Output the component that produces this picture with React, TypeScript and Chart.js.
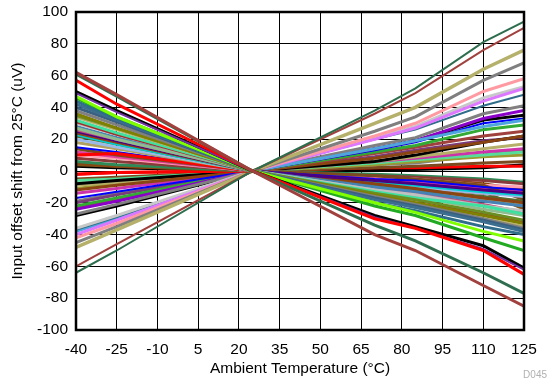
import React, { useEffect, useRef } from "react";
import { Chart, registerables } from "chart.js";

Chart.register(...registerables);

const temps = [-40, -25, 25, 70, 85, 110, 125];
const xTicks = [-40, -25, -10, 5, 20, 35, 50, 65, 80, 95, 110, 125];
const yTicks = [-100, -80, -60, -40, -20, 0, 20, 40, 60, 80, 100];

// negative temperature coefficient units
const n01 = [62, 48, 0, -40, -50, -72, -85];
const n02 = [61, 47, 0, -34, -44, -64, -77];
const n03 = [57, 42, 0, -30, -36, -50, -65];
const n04 = [50, 38, 0, -28, -35, -47, -61];
const n05 = [49, 37, 0, -29, -36, -49, -62];
const n06 = [47, 34, 0, -20, -26, -38, -44];
const n07 = [46, 34, 0, -22, -28, -42, -50];
const n08 = [44, 33, 0, -20, -25, -35, -40];
const n09 = [42, 32, 0, -18, -23, -32, -38];
const n10 = [38, 29, 0, -16, -21, -30, -36];
const n11 = [36, 27, 0, -15, -20, -28, -33];
const n12 = [34, 26, 0, -15, -20, -30, -35];
const n13 = [32, 24, 0, -13, -17, -22, -27];
const n14 = [30, 23, 0, -12, -15, -22, -25];
const n15 = [28, 21, 0, -10, -13, -19, -22];
const n16 = [26, 20, 0, -11, -14, -21, -26];
const n17 = [24, 18, 0, -8, -11, -17, -20];
const n18 = [22, 17, 0, -9, -12, -16, -19];
const n19 = [20, 15, 0, -8, -10, -14, -16];
const n20 = [10, 11, 0, -8, -10, -14, -15];
const n21 = [15, 12, 0, -5, -6, -10, -12];
const n22 = [12, 9, 0, -5, -7, -11, -13];
const n23 = [10, 8, 0, -4, -5, -9, -10];
const n24 = [8, 6, 0, -3, -4, -6, -8];
const n25 = [6, 4, 0, -2, -3, -5, -7];
const n26 = [5, 3, 0, -3, -4, -8, -12];
const n27 = [-2, -1, 0, -7, -9, -10, -11];
const n28 = [40, 31, 0, -17, -22, -31, -37];
const n29 = [35, 27, 0, -14, -18, -26, -31];
const n30 = [27, 20, 0, -12, -16, -24, -28];
const n31 = [25, 19, 0, -6, -8, -12, -14];
const n32 = [31, 23, 0, -14, -18, -27, -32];
const n33 = [23, 17, 0, -7, -9, -13, -15];
const n34 = [18, 14, 0, -10, -13, -18, -21];
const n35 = [14, 10, 0, -3, -5, -9, -18];
const n36 = [4, 3, 0, -6, -8, -13, -24];

// positive temperature coefficient units
const p01 = [-64, -50, 0, 38, 52, 81, 94];
const p02 = [-60, -46, 0, 36, 49, 76, 90];
const p03 = [-48, -37, 0, 30, 40, 64, 76];
const p04 = [-45, -35, 0, 25, 34, 57, 68];
const p05 = [-42, -33, 0, 22, 30, 50, 58];
const p06 = [-40, -31, 0, 20, 27, 44, 52];
const p07 = [-36, -28, 0, 21, 28, 46, 53];
const p08 = [-37, -29, 0, 20, 26, 41, 48];
const p09 = [-38, -30, 0, 14, 19, 28, 32];
const p10 = [-27, -21, 0, 16, 21, 36, 41];
const p11 = [-24, -19, 0, 14, 19, 33, 38];
const p12 = [-28, -22, 0, 14, 19, 32, 35];
const p13 = [-17, -13, 0, 13, 18, 30, 33];
const p14 = [-22, -17, 0, 12, 16, 26, 29];
const p15 = [-23, -18, 0, 11, 15, 22, 25];
const p16 = [-12, -9, 0, 8, 12, 18, 22];
const p17 = [-8, -6, 0, 6, 10, 18, 22];
const p18 = [-9, -7, 0, 6, 9, 14, 17];
const p19 = [-14, -11, 0, 6, 8, 12, 14];
const p20 = [-6, -5, 0, 5, 7, 10, 12];
const p21 = [-11, -8, 0, 4, 6, 9, 10];
const p22 = [-20, -15, 0, 9, 13, 19, 21];
const p23 = [-19, -14, 0, 4, 5, 10, 13];
const p24 = [-5, -4, 0, 2, 3, 5, 6];
const p25 = [-2, -1, 0, 2, 2, 3, 3];
const p26 = [3, 2, 0, 1, 1, 2, 4];

const seriesList: [number[], string, number][] = [
  [n01, "#A0413E", 3], [n02, "#2E6E4E", 3], [n03, "#FF0000", 3], [n05, "#7030A0", 2],
  [n04, "#000000", 3], [n06, "#7FFF00", 3], [n07, "#22AA22", 3], [n08, "#2F6D8A", 3],
  [n09, "#3C6E8F", 3], [n28, "#3A5F7F", 3], [n10, "#808080", 3], [n11, "#808000", 3],
  [n29, "#6B8E23", 3], [n12, "#B5AF6A", 3], [n13, "#40E0A0", 3], [n32, "#A52A2A", 3],
  [n14, "#C0C0C0", 3], [n30, "#8FBC8F", 3], [n15, "#4682B4", 3], [n16, "#C05080", 3],
  [n31, "#4B0082", 3], [n17, "#8B4513", 3], [n33, "#00CED1", 3], [n18, "#556B2F", 3],
  [n19, "#9AB8E8", 3], [n34, "#B0A060", 3], [n20, "#FF0000", 3], [n21, "#0000FF", 2],
  [n35, "#7B4A1E", 3], [n22, "#E040A0", 3], [n23, "#FFA0B0", 3], [n24, "#8B3A3A", 3],
  [n25, "#2E8B57", 3], [n26, "#8B4513", 3], [n36, "#7F5217", 3], [n27, "#FF0000", 3],
  [p01, "#2E6E4E", 2], [p02, "#A0413E", 2], [p03, "#B5B06A", 3.5], [p04, "#7F7F7F", 3],
  [p05, "#FF9AA2", 3], [p06, "#DD77FF", 3], [p07, "#C8C8C8", 3], [p08, "#2F6D8A", 2],
  [p09, "#4FA6DC", 3], [p10, "#808080", 3], [p11, "#8B00C8", 3], [p12, "#000000", 3],
  [p13, "#0000FF", 2], [p14, "#33AA33", 3], [p15, "#A0413E", 3], [p16, "#8B4513", 3],
  [p17, "#000000", 3], [p18, "#B5AF6A", 3], [p19, "#CC33AA", 3], [p20, "#55DD99", 3],
  [p21, "#9A9A30", 3], [p22, "#7A3C7A", 3], [p23, "#7F7F7F", 3], [p24, "#7B4A1E", 3],
  [p25, "#FF0000", 3], [p26, "#000000", 3],
];

const FONT = "'Liberation Sans', Arial, sans-serif";

export default function App() {
  const ref = useRef<HTMLCanvasElement | null>(null);
  useEffect(() => {
    if (!ref.current) return;
    const datasets = seriesList.map(([vals, color, w], i) => ({
      label: "S" + (i + 1),
      data: temps.map((t, k) => ({ x: t, y: vals[k] })),
      borderColor: color,
      backgroundColor: color,
      borderWidth: w,
      pointRadius: 0,
      tension: 0,
      fill: false,
    }));
    const frame = {
      id: "frame",
      afterDraw(chart: any) {
        const { ctx, chartArea: a } = chart;
        ctx.save();
        ctx.strokeStyle = "#000";
        ctx.lineWidth = 2.5;
        ctx.strokeRect(a.left, a.top, a.right - a.left, a.bottom - a.top);
        ctx.font = "10px " + FONT;
        ctx.fillStyle = "#b0b0b0";
        ctx.textAlign = "right";
        ctx.textBaseline = "middle";
        ctx.fillText("D045", 547, 375);
        ctx.restore();
      },
    };
    const chart = new Chart(ref.current, {
      type: "line",
      data: { datasets },
      plugins: [frame],
      options: {
        animation: false,
        responsive: false,
        layout: { padding: { left: 0, right: 23, top: 12, bottom: 0 } },
        plugins: { legend: { display: false }, tooltip: { enabled: false } },
        scales: {
          x: {
            type: "linear",
            min: -40,
            max: 125,
            afterBuildTicks: (s: any) => { s.ticks = xTicks.map((v) => ({ value: v })); },
            afterFit: (s: any) => { s.height = 51; },
            grid: { color: "#000", lineWidth: 1, drawTicks: false },
            border: { display: false },
            ticks: { color: "#000", font: { family: FONT, size: 15.5 }, padding: 10, maxRotation: 0, autoSkip: false },
            title: { display: true, text: "Ambient Temperature (°C)", color: "#000", font: { family: FONT, size: 15.5 }, padding: { top: 0, bottom: 3 } },
          },
          y: {
            type: "linear",
            min: -100,
            max: 100,
            afterBuildTicks: (s: any) => { s.ticks = yTicks.map((v) => ({ value: v })); },
            afterFit: (s: any) => { s.width = 76; s.paddingTop = 0; },
            grid: { color: "#000", lineWidth: 1, drawTicks: false },
            border: { display: false },
            ticks: { color: "#000", font: { family: FONT, size: 15.5 }, padding: 8, autoSkip: false },
            title: { display: true, text: "Input offset shift from 25°C (uV)", color: "#000", font: { family: FONT, size: 15.5 }, padding: { top: 8, bottom: 0 } },
          },
        },
      },
    } as any);
    return () => chart.destroy();
  }, []);
  return (
    <div style={{ position: "absolute", left: 0, top: 0, width: 547, height: 381, background: "#fff" }}>
      <canvas ref={ref} width={547} height={381} style={{ width: 547, height: 381 }} />
    </div>
  );
}
